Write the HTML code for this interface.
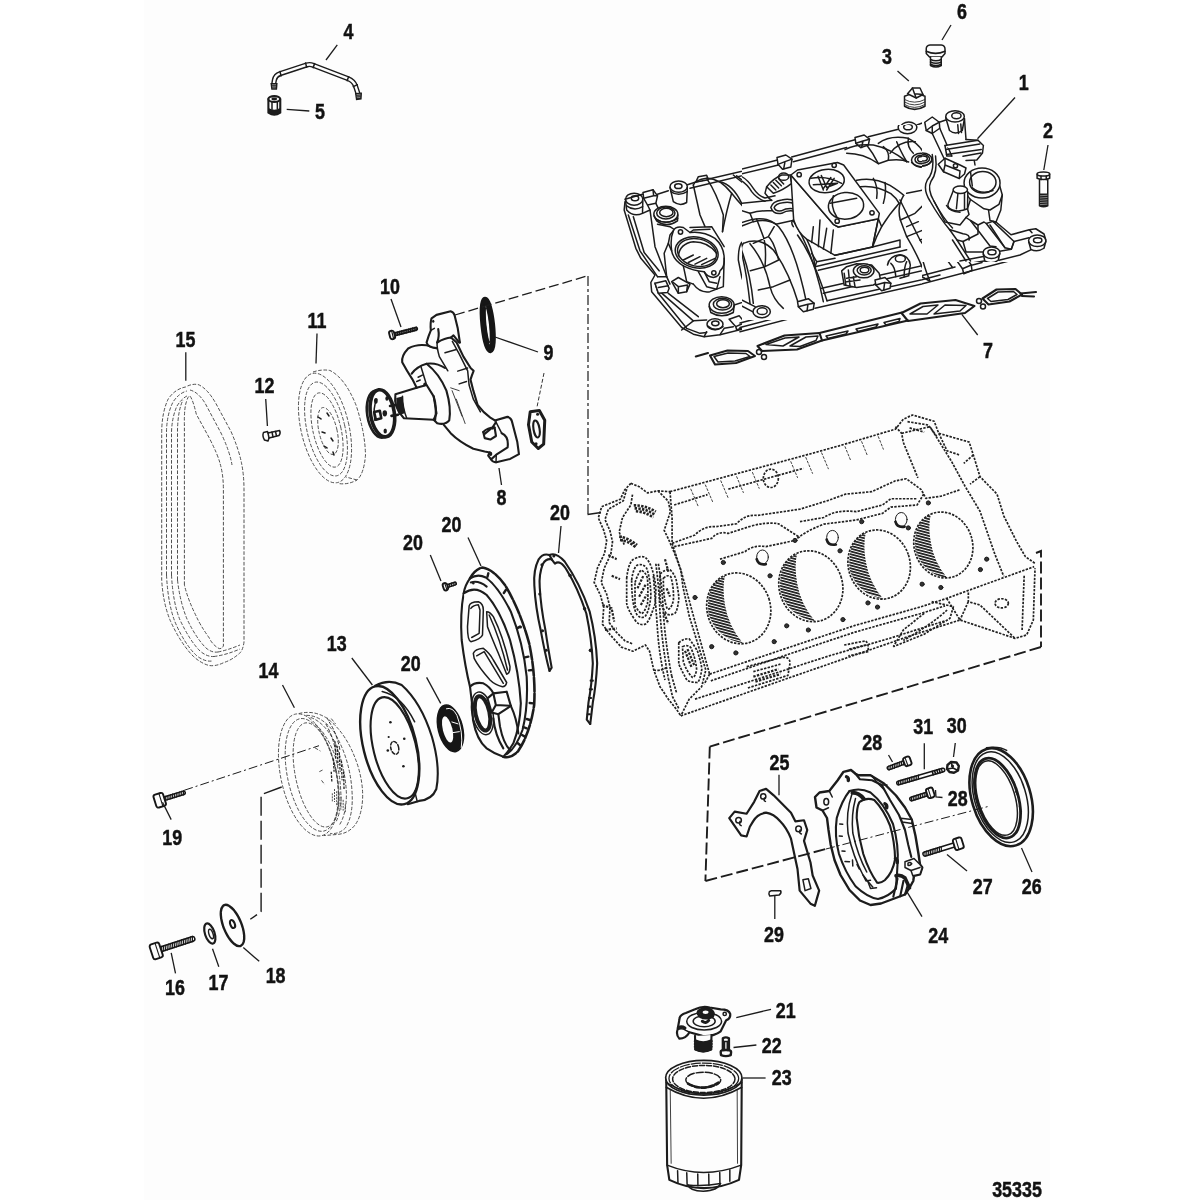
<!DOCTYPE html>
<html><head><meta charset="utf-8"><title>35335</title>
<style>
html,body{margin:0;padding:0;background:#fff;}
body{width:1200px;height:1200px;overflow:hidden;position:relative;}
#bg{position:absolute;left:144px;top:0;width:906px;height:1200px;background:#fdfdfd;}
svg{position:absolute;left:0;top:0;}
svg *{vector-effect:non-scaling-stroke;}
.k{fill:none;stroke:#1c1c1c;stroke-width:1.5;stroke-linecap:round;stroke-linejoin:round;}
.k2{fill:none;stroke:#1c1c1c;stroke-width:2.1;stroke-linecap:round;stroke-linejoin:round;}
.k3{fill:none;stroke:#161616;stroke-width:2.8;stroke-linecap:round;stroke-linejoin:round;}
.kt{fill:none;stroke:#2a2a2a;stroke-width:0.9;stroke-linecap:round;stroke-linejoin:round;}
.w{fill:#fdfdfd;}
.ph{fill:none;stroke:#484848;stroke-width:0.95;stroke-dasharray:3.6 1.7;stroke-linecap:butt;stroke-linejoin:round;}
.pd{fill:none;stroke:#222;stroke-width:1.7;stroke-dasharray:2.4 1.3;stroke-linecap:butt;stroke-linejoin:round;}
.ds{fill:none;stroke:#1c1c1c;stroke-width:1.9;stroke-dasharray:12 4;stroke-linecap:butt;}
.dd{fill:none;stroke:#1c1c1c;stroke-width:1.2;stroke-dasharray:9 3 2 3;stroke-linecap:butt;}
.ld{fill:none;stroke:#1c1c1c;stroke-width:1.3;stroke-linecap:butt;}
.f{fill:#1c1c1c;stroke:none;}
text{font-family:"Liberation Sans",sans-serif;font-weight:bold;font-size:21.8px;fill:#111;stroke:#111;stroke-width:0.45px;text-anchor:middle;}
</style></head><body><div id="bg"></div>
<svg width="1200" height="1200" viewBox="0 0 1200 1200">
<defs>
<clipPath id="clipL"><rect x="0" y="0" width="742" height="1200"/></clipPath>
<clipPath id="clipC" clipPathUnits="userSpaceOnUse"><rect x="12" y="30" width="1080" height="1170"/></clipPath>
<clipPath id="clipR"><path clip-rule="evenodd" d="M0,0 H1200 V1200 H0 Z M700,125 V320 H922 V125 Z M922,112 H930 V100 H1075 V262 H922 Z"/></clipPath>
<clipPath id="clipT" clipPathUnits="userSpaceOnUse"><path d="M147,147 H200 V67 H1167 V1147 H147 Z"/></clipPath>
</defs>
<!-- 10_manifold_left.svg -->
<g clip-path="url(#clipL)"><g id="man-left" transform="translate(600,160) scale(0.166667)" class="k">
<!-- outer flange left end -->
<path d="M150,250 L145,300 L215,530 L245,590 L330,690 L305,735 L310,790 L490,1005 L560,1045 L625,1060 L720,1048 L1200,930"/>
<path d="M170,330 L240,545 L345,700"/>
<path d="M255,320 L300,300 L330,520 L400,700"/>
<path d="M200,340 L265,555 L355,665"/>
<path d="M330,740 L350,800 L520,1010 L600,1040 L640,1035"/>
<path d="M345,700 L400,700 L420,745"/>
<path d="M360,790 L560,965 L640,960"/>
<path d="M410,800 L590,940"/>
<path d="M490,1020 L560,965"/>
<path d="M625,1060 L640,1030"/>
<!-- top-left corner boss -->
<ellipse cx="205" cy="235" rx="52" ry="36" class="k w"/>
<ellipse cx="210" cy="230" rx="22" ry="15" class="k"/>
<path d="M153,240 L160,300 Q200,345 255,320 L257,245"/>
<path d="M160,275 Q205,310 256,280"/>
<!-- clip 1 -->
<path d="M258,195 L318,178 L345,215 L335,260 L285,270 L262,230 Z" class="k w"/>
<path d="M262,230 L322,215 L345,215 M322,215 L318,178"/>
<path d="M285,270 L300,300 M335,260 L350,290"/>
<!-- top rail -->
<path d="M255,205 L150,235"/>
<path d="M345,205 L410,185"/>
<path d="M520,150 L575,132 L1060,18"/>
<path d="M540,170 L1040,50"/>
<!-- boss 2 -->
<ellipse cx="472" cy="160" rx="52" ry="34" class="k w"/>
<ellipse cx="470" cy="157" rx="22" ry="14"/>
<path d="M420,165 L440,250 Q480,280 520,255 L524,165"/>
<path d="M425,190 Q470,222 523,190"/>
<!-- small clip on rail -->
<path d="M575,132 L590,100 L640,92 L650,118 Z" class="k w"/>
<!-- boss 3 big -->
<ellipse cx="395" cy="325" rx="72" ry="48" class="k w"/>
<ellipse cx="395" cy="318" rx="55" ry="36"/>
<ellipse cx="398" cy="315" rx="40" ry="25"/>
<path d="M325,335 L340,365 Q400,410 465,365 L467,330"/>
<path d="M335,355 Q400,395 466,350"/>
<path d="M345,385 L420,400 L450,420"/>
<!-- water outlet flange -->
<path d="M440,425 Q455,395 500,405 L540,435 Q620,425 690,470 Q745,520 745,590 Q750,640 720,665 Q715,700 680,705 Q640,700 625,670 Q560,665 500,635 Q440,600 430,545 Q420,470 440,425 Z" class="k w"/>
<ellipse cx="580" cy="555" rx="130" ry="92" transform="rotate(12 580 555)"/>
<ellipse cx="582" cy="555" rx="118" ry="82" transform="rotate(12 582 555)"/>
<path d="M470,575 Q480,500 560,490 Q650,490 700,560"/>
<path d="M500,600 L560,570 M530,615 L600,580 M570,625 L640,590 M610,628 L690,590"/>
<circle cx="483" cy="432" r="13"/>
<circle cx="683" cy="677" r="13"/>
<!-- flange body below -->
<path d="M430,545 L410,500 L420,450 L440,425"/>
<path d="M410,500 L385,560 L400,700"/>
<path d="M500,635 L520,730 L560,745"/>
<path d="M590,670 L640,760 L700,775 L720,700"/>
<path d="M625,670 L655,730 L700,740"/>
<path d="M560,745 Q600,800 660,790 L740,760 L745,590"/>
<path d="M540,405 L670,400 L745,520"/>
<path d="M540,435 L560,420 L660,415"/>
<!-- clips lower-left -->
<path d="M330,740 L395,725 L415,770 L405,795 L350,800 Z" class="k w"/>
<path d="M350,765 L410,755"/>
<path d="M430,730 L470,705 L540,745 L520,790 L470,800 Z" class="k w"/>
<path d="M470,760 L525,750 L520,790 M470,760 L470,800 M470,760 L440,735"/>
<!-- boss lower -->
<ellipse cx="730" cy="870" rx="75" ry="50" class="k w"/>
<ellipse cx="735" cy="865" rx="55" ry="35"/>
<ellipse cx="738" cy="862" rx="38" ry="24"/>
<path d="M655,880 L665,915 Q730,955 800,915 L805,875"/>
<!-- small boss -->
<ellipse cx="690" cy="985" rx="48" ry="33" class="k w"/>
<ellipse cx="692" cy="980" rx="22" ry="14"/>
<path d="M645,995 Q690,1035 738,1000"/>
<!-- clip bottom -->
<path d="M775,955 L835,935 L870,975 L815,1000 Z" class="k w"/>
<path d="M815,1000 L820,1020 L870,1000 L870,975"/>
<!-- boss right small -->
<ellipse cx="975" cy="905" rx="45" ry="30" class="k w"/>
<ellipse cx="978" cy="900" rx="22" ry="14"/>
<path d="M930,915 Q975,955 1020,915"/>
<!-- lower rail lines -->
<path d="M870,985 L1200,895"/>
<path d="M805,870 L930,830 L940,885"/>
<path d="M720,1048 L745,1010 L800,1000"/>
<!-- runners (left bank) -->
<path d="M560,150 Q570,120 640,110 Q720,110 790,200 Q860,290 920,330"/>
<path d="M560,150 L600,330 L630,400"/>
<path d="M640,110 Q700,200 740,330 L735,430"/>
<path d="M790,200 Q760,300 735,430"/>
<path d="M720,130 Q800,150 850,260 Q960,330 1020,440"/>
<path d="M850,260 Q900,240 1000,210"/>
<path d="M800,90 Q900,180 1010,220"/>
<path d="M820,95 Q910,170 1020,200"/>
<path d="M920,330 Q940,400 910,480 Q880,500 850,495 Q830,520 830,600 L850,700 Q880,800 930,870"/>
<path d="M910,480 Q940,520 950,600 Q1000,700 1100,760"/>
<path d="M850,495 Q870,600 900,700 Q940,800 990,860"/>
<path d="M920,330 Q1010,380 1060,470 Q1100,560 1120,700"/>
<path d="M1020,440 Q1090,500 1130,600 Q1160,700 1200,760"/>
<path d="M950,600 L1040,560 Q1060,620 1040,700"/>
<path d="M900,700 Q960,740 1040,700 L1120,700"/>
<path d="M1040,560 L1090,520"/>
<path d="M1060,470 L1130,440 L1200,400"/>
<path d="M940,760 L1060,780 L1130,760"/>
<path d="M990,860 Q1060,850 1130,760"/>
<path d="M1100,760 Q1150,820 1200,850"/>
<!-- peanut & neighbours -->
<path d="M1030,290 Q1050,250 1110,240 Q1160,215 1200,225"/>
<path d="M1030,290 Q1060,330 1120,315 Q1160,330 1200,310"/>
<path d="M1045,290 Q1065,265 1115,255 Q1160,235 1200,240"/>
<!-- top right stuff -->
<path d="M1060,18 L1080,5 L1140,0"/>
<path d="M1000,170 Q1040,130 1090,110 L1130,150 Q1080,170 1050,205 Z"/>
<ellipse cx="1120" cy="100" rx="45" ry="30"/>
<ellipse cx="1122" cy="97" rx="28" ry="18"/>
</g></g>

<!-- 11_manifold_tr.svg -->
<g clip-path="url(#clipR)"><g id="man-tr" transform="translate(780,0) scale(0.25)" class="k">
<!-- back rail -->
<path d="M0,640 L300,560"/>
<path d="M0,668 L255,602"/>
<path d="M350,548 L485,508"/>
<path d="M345,578 L470,545"/>
<!-- clip on rail -->
<path d="M300,560 L312,545 L350,540 L358,570 L345,592 L318,595 Z" class="k w"/>
<path d="M318,595 L312,565 L350,560"/>
<!-- left small clip at edge -->
<path d="M0,640 L8,620 L40,622 L50,655 L40,690 L10,700" />
<path d="M10,700 L20,720 L0,740"/>
<!-- boss A -->
<ellipse cx="515" cy="512" rx="33" ry="24" class="k w"/>
<ellipse cx="517" cy="510" rx="15" ry="10"/>
<path d="M483,520 Q515,555 548,520"/>
<!-- rail to clip2 -->
<path d="M548,500 L580,488"/>
<path d="M578,488 L603,470 L632,490 L622,520 L592,527 Z" class="k w"/>
<path d="M592,527 L590,500 L632,490"/>
<path d="M592,527 L640,645 M622,520 L685,640"/>
<path d="M632,490 L662,475"/>
<!-- tall boss B -->
<path d="M660,470 L672,515 Q705,545 737,520 L742,465" class="k w"/>
<ellipse cx="701" cy="463" rx="41" ry="26" class="k w"/>
<ellipse cx="703" cy="461" rx="26" ry="16"/>
<path d="M742,480 L750,545"/>
<path d="M672,515 L660,560"/>
<!-- block step -->
<path d="M668,562 L790,556 L806,582 L803,626 L783,662 L740,668"/>
<path d="M672,600 L803,596"/>
<path d="M690,562 L690,600 M760,558 L760,598"/>
<path d="M690,640 L795,632"/>
<path d="M750,545 L790,556"/>
<!-- Y bracket -->
<path d="M640,648 L700,636 L728,682 L715,700 L655,712 L635,672 Z" class="k w"/>
<path d="M655,712 L660,680 L728,682 M660,680 L640,648"/>
<circle cx="690" cy="655" r="5"/>
<path d="M715,700 L745,715 M728,682 L760,690"/>
<!-- thermostat neck ring -->
<ellipse cx="792" cy="735" rx="63" ry="56" class="k w"/>
<ellipse cx="797" cy="730" rx="46" ry="40"/>
<path d="M760,690 Q745,720 752,760 L770,790"/>
<path d="M852,750 Q890,790 880,840 Q865,880 825,885 L790,870 Q760,850 752,800"/>
<path d="M840,775 Q860,810 850,845 Q830,870 800,860"/>
<path d="M770,790 Q800,800 840,775"/>
<path d="M760,690 L772,770"/>
<!-- cylinder boss C -->
<path d="M688,768 L678,850 Q712,885 748,858 L748,772" class="k w"/>
<ellipse cx="717" cy="765" rx="31" ry="18" class="k w"/>
<path d="M700,765 L695,850 M735,770 L735,860"/>
<path d="M660,830 Q665,870 700,880"/>
<path d="M748,858 L760,880 L825,885"/>
<!-- boss D -->
<ellipse cx="562" cy="635" rx="40" ry="28" class="k w"/>
<ellipse cx="565" cy="632" rx="28" ry="19"/>
<ellipse cx="567" cy="630" rx="17" ry="11"/>
<path d="M524,645 Q560,690 602,645"/>
<!-- divider S-curve -->
<path d="M602,660 Q610,700 590,740 Q575,790 600,850 Q640,900 700,900"/>
<path d="M622,690 Q600,760 615,820 Q650,880 700,885"/>
<!-- upper tubes -->
<path d="M258,612 Q280,570 350,560 Q440,545 510,580 Q530,600 522,640"/>
<path d="M258,612 Q300,640 350,640"/>
<path d="M400,645 Q420,590 480,575"/>
<path d="M350,560 Q380,600 400,645 Q440,655 470,640 Q500,600 480,575"/>
<path d="M470,640 Q500,660 524,648"/>
<path d="M420,560 Q470,600 470,640"/>
<path d="M300,640 Q420,640 480,700 L500,745"/>
<path d="M240,660 Q300,650 350,680 Q420,720 440,770"/>
<path d="M480,700 Q540,690 600,740"/>
<path d="M500,745 Q560,740 590,760"/>
<path d="M440,770 Q480,760 500,745"/>
<path d="M350,680 Q330,720 300,730"/>
<!-- right bottom runner toward rail -->
<path d="M600,850 Q640,940 700,960 L740,950"/>
<path d="M560,800 Q600,900 640,1000 L690,1070"/>
<path d="M480,800 Q520,900 560,1000 Q580,1080 600,1125"/>
<path d="M440,770 Q470,800 480,830"/>
<path d="M590,760 Q570,790 560,800"/>
<path d="M500,850 Q540,840 580,860"/>
<path d="M540,960 Q580,940 620,960"/>
<!-- right lower ribs -->
<path d="M760,880 L790,935 L830,925 L830,885"/>
<path d="M830,890 L900,985 L935,975 L850,880" class="k w"/>
<path d="M740,950 L800,930"/>
<path d="M700,960 L720,1040 L745,1035"/>
<path d="M745,905 L830,990 L900,985"/>
<!-- right rail end -->
<path d="M935,975 L1000,955 L1005,925 L1040,918"/>
<path d="M880,840 L940,935 L1000,915"/>
<ellipse cx="1025" cy="962" rx="38" ry="27" class="k w"/>
<ellipse cx="1028" cy="960" rx="18" ry="12"/>
<path d="M1040,918 L1065,945 L1068,985 L1045,1010 L1000,1020"/>
<path d="M988,975 Q1025,1010 1062,975"/>
<!-- boss on lower rail -->
<ellipse cx="842" cy="1010" rx="35" ry="24" class="k w"/>
<ellipse cx="845" cy="1008" rx="17" ry="11"/>
<path d="M808,1020 Q842,1055 876,1020"/>
<path d="M876,1005 L915,995 L925,1015 L985,1000"/>
<path d="M915,995 L910,1030 L960,1018"/>
<!-- clips on lower rail -->
<path d="M705,1040 L745,1030 L765,1060 L730,1075 Z" class="k w"/>
<path d="M730,1075 L735,1095 L768,1082 L765,1060"/>
<path d="M770,1060 L808,1050"/>
<!-- lower rail lines -->
<path d="M1045,1010 L-160,1327"/>
<path d="M700,1068 L-160,1292"/>
<path d="M640,1100 L-160,1310"/>

<!-- carb flange -->
<path d="M50,700 L215,655 L390,860 L225,920 Z" class="k w"/>
<ellipse cx="175" cy="730" rx="58" ry="42" transform="rotate(-8 175 730)"/>
<ellipse cx="262" cy="830" rx="66" ry="52" transform="rotate(-8 262 830)"/>
<path d="M125,745 L200,700 M140,760 L225,715 M160,705 L190,770 M180,700 L215,765"/>
<circle cx="82" cy="705" r="8"/><circle cx="212" cy="668" r="8"/><circle cx="362" cy="852" r="8"/><circle cx="228" cy="888" r="8"/>
<path d="M50,700 L52,730 L130,870 L225,950 L225,920"/>
<path d="M225,950 L390,890 L390,860"/>
<path d="M130,870 L150,1000 L240,1070 L225,950"/>
<path d="M240,1070 L385,1020 L390,890"/>
<path d="M175,900 L195,1035 M200,925 L215,1050"/>
<path d="M150,1000 L100,1010 L60,960"/>
<path d="M385,1020 L470,1000 L520,960"/>
<path d="M390,930 Q440,900 480,830"/>
<!-- under-carb lines -->
<path d="M0,860 Q40,840 70,790"/>
<path d="M0,900 Q60,880 110,830"/>
<path d="M60,960 Q20,1000 0,1010"/>
<path d="M150,1060 L170,1140 L240,1140"/>
<path d="M0,1060 Q80,1080 140,1200"/>
<path d="M60,1040 Q120,1080 180,1200"/>
<path d="M240,1140 L470,1080"/>
<path d="M170,1170 L250,1150"/>
<path d="M470,1000 L520,1080 L600,1125"/>
<path d="M385,1020 L400,1090"/>
<!-- lower center boss -->
<path d="M250,1085 L285,1075 M250,1085 L255,1135 L290,1150 L380,1130 M370,1095 L395,1115 L440,1105 L430,1075 L395,1085"/>
<ellipse cx="330" cy="1100" rx="42" ry="28" class="k w"/>
<ellipse cx="333" cy="1097" rx="28" ry="18"/>
<ellipse cx="335" cy="1095" rx="17" ry="11"/>
<path d="M390,1120 L410,1150 L445,1140 L440,1105" class="k w"/>
<path d="M440,1060 Q470,1030 500,1050 L520,1110"/>
<ellipse cx="485" cy="1045" rx="12" ry="8"/>
<!-- plug 6 -->
<path d="M585,195 Q585,182 600,180 L645,180 Q660,182 660,196 L660,214 L648,228 L598,228 L585,214 Z" class="k w"/>
<path d="M585,205 Q622,222 660,205"/>
<path d="M602,228 L602,262 Q624,274 645,262 L645,228" class="k w"/>
<path d="M602,238 Q624,248 645,238 M602,248 Q624,258 645,248 M602,257 Q624,268 645,257" class="k"/>
<!-- plug 3 -->
<path d="M498,385 L498,425 Q538,450 580,425 L580,385 Q540,365 498,385 Z" class="k w"/>
<path d="M510,375 L530,352 L560,352 L572,378 L545,392 Z" class="k w"/>
<path d="M530,352 L538,375 L545,392 M538,375 L572,378"/>
<path d="M498,398 Q538,420 580,398 M498,408 Q538,432 580,408 M498,418 Q538,442 580,418" class="kt"/>
<!-- bolt 2 -->
<path d="M1028,692 L1040,685 L1070,685 L1082,692 L1082,715 L1070,725 L1040,725 L1028,715 Z" class="k w"/>
<path d="M1045,685 L1045,725 M1068,685 L1068,725"/>
<path d="M1042,725 L1042,825 Q1055,835 1068,825 L1068,725" class="k w"/>
<path d="M1042,775 L1068,772 M1042,785 L1068,782 M1042,795 L1068,792 M1042,805 L1068,802 M1042,815 L1068,812 M1042,824 L1068,821" class="k2"/>
<path d="M385,1125 L425,1112 L445,1145 L410,1160 Z" class="k w"/>
<path d="M410,1160 L415,1180 L448,1168 L445,1145"/>
<path d="M75,1205 L115,1192 L135,1225 L100,1240 Z" class="k w"/>
<path d="M100,1240 L105,1258 L138,1246 L135,1225"/>
</g></g>
<g id="lead-tr" class="ld">
<path d="M951,25 L942,40"/>
<path d="M897.5,71 L908.8,81"/>
<path d="M1015,97.5 L977.5,138.8"/>
<path d="M1048,145 L1043.8,170"/>
</g>

<!-- 12_gasket7.svg -->
<g id="gasket7" class="k2">
<path d="M695.8,356.5 L708,353"/>
<path d="M710,355.5 L727.5,350.5 L748,351 L755,356 L736,363 L715,364.5 Z"/>
<path d="M714,356.5 L728,353 L746,353.5 L750,356.5 L735,361 L718,362 Z" class="k"/>
<circle cx="759" cy="352" r="2.5" class="k"/><circle cx="764" cy="357" r="2.5" class="k"/>
<path d="M757.5,346 L784.5,335.5 L819.5,333 L822,340.5 L797,349.5 L762,351 Z"/>
<path d="M766,344.5 L785,338 L799,337 L783,346 Z" class="k"/>
<path d="M790,346 L806,337 L818,336 L816,340.5 L800,346.5 Z" class="k"/>
<path d="M819.5,333 L902,312.5"/>
<path d="M822,340.5 L908,320.5"/>
<path d="M826,336 L848,331 L846,334 L828,338.5 Z M856,329 L878,324 L876,327 L858,331.5 Z M884,322.5 L900,318.5 L899,321.5 L886,325 Z" class="k"/>
<path d="M901.5,313 L920.5,303.5 L955.5,300 L974.5,306 L965,313 L908,321 Z"/>
<path d="M910,314 L923,306.5 L938,305 L927,314 Z" class="k"/>
<path d="M934,314 L945,305 L966,305.5 L960,311 Z" class="k"/>
<circle cx="979" cy="301" r="2.5" class="k"/><circle cx="983" cy="306.5" r="2.5" class="k"/>
<path d="M982.5,298.5 L996.5,289.5 L1015.5,289 L1022,294.5 L1009.5,301.5 L988.5,304.5 Z"/>
<path d="M987.5,298.5 L998,292 L1013.5,291.5 L1017,294.5 L1008,299.5 L991,301.5 Z" class="k"/>
<path d="M1020.5,293.5 L1036,292 M1022,296 L1034,296.5" />
</g>
<path class="ld" d="M961.8,314.3 L977.7,335"/>

<!-- 13_manifold_center.svg -->
<g id="man-center" transform="translate(740,120) scale(0.166667)" class="k" clip-path="url(#clipC)">
<!-- back rail -->
<path d="M0,297 L225,240 M310,222 L690,118 M770,100 L950,55"/>
<path d="M0,325 L230,270 M320,250 L640,165"/>
<path d="M222,225 L275,210 L312,235 L305,282 L255,296 L228,266 Z" class="k w"/>
<path d="M228,266 L270,250 L312,235 M270,250 L262,294"/>
<path d="M690,105 L745,90 L777,115 L770,150 L725,166 L695,140 Z" class="k w"/>
<path d="M695,140 L738,126 L777,115 M738,126 L730,165"/>
<ellipse cx="1005" cy="45" rx="56" ry="38" class="k w"/>
<ellipse cx="1008" cy="42" rx="26" ry="17"/>

<!-- small boss + clip behind carb -->
<path d="M160,400 Q200,350 250,330 L300,330 L310,380 Q260,420 200,440 Z" class="k w"/>
<ellipse cx="262" cy="340" rx="30" ry="22"/>
<path d="M185,390 L215,420 M200,375 L232,408 M215,362 L248,395 M232,352 L262,384"/>
<path d="M160,400 L150,440 L175,470"/>
<!-- left ridge curves -->
<path d="M0,335 Q40,350 80,410 Q110,455 150,468 L210,455"/>
<path d="M0,360 Q40,380 70,430 Q100,470 150,488"/>
<path d="M0,500 L190,482"/>
<!-- peanut -->
<path d="M185,525 Q195,488 250,480 Q300,468 335,490 Q382,500 386,526 Q372,548 320,546 Q282,540 250,560 Q200,568 185,525 Z"/>
<path d="M205,525 Q215,502 255,497 Q300,487 330,507 Q360,512 364,526 Q352,535 318,532 Q280,527 248,545 Q212,550 205,525 Z"/>
<!-- plenum box top lines -->
<path d="M190,482 L175,470 M386,526 L420,500 L330,395"/>
<path d="M0,620 Q150,555 232,640 Q330,760 400,1100"/>
<path d="M20,740 Q120,698 200,780 Q290,900 350,1100"/>
<path d="M0,640 L80,610 Q160,590 215,625"/>
<path d="M80,610 L60,560 L0,540"/>
<path d="M215,625 L330,600 L420,690"/>
<path d="M0,760 Q60,900 80,1100"/>
<path d="M60,742 Q150,850 180,1000 Q200,1080 260,1130"/>
<path d="M20,740 Q5,760 10,800 Q40,920 60,1100"/>
<path d="M100,595 L140,700 M205,640 L170,700 L80,740 M232,840 L150,880 L62,905 M300,960 L200,1000 L110,1020 M140,700 Q160,760 150,880 M170,700 Q200,720 232,840"/>
<path d="M60,560 Q120,540 190,545"/>
<!-- ridge right of runner -->
<path d="M320,605 Q420,760 480,1000 L500,1090"/>
<path d="M345,690 Q440,820 522,1085"/>
<path d="M400,715 Q440,790 450,880"/>
<!-- riser -->
<path d="M570,812 L590,642"/>
<path d="M305,330 L322,600 Q350,680 400,715 L570,812 L795,762 L830,592 L590,642 L560,626 Z" class="k w"/>
<path d="M570,812 L795,762 L830,592"/>
<path d="M560,660 L545,800 M520,650 L500,775 M480,600 L470,760 M440,640 L430,735"/>
<path d="M322,600 Q300,610 320,640"/>
<path d="M830,592 L850,640 L820,700 L795,762"/>
<!-- carb flange -->
<path d="M305,330 L345,300 L585,255 L622,270 L836,560 L830,592 L590,642 L560,626 Z" class="k w"/>
<ellipse cx="520" cy="366" rx="106" ry="70" transform="rotate(-6 520 366)"/>
<ellipse cx="636" cy="515" rx="106" ry="80" transform="rotate(-6 636 515)"/>
<path d="M425,350 Q520,330 610,380"/>
<path d="M468,338 L500,420 M488,333 L520,405 M545,345 L498,415 M565,350 L520,420 M440,388 L585,380 M520,405 L585,380"/>
<path d="M560,455 Q540,520 580,580 M540,500 L700,470"/>
<circle cx="355" cy="328" r="13"/><circle cx="565" cy="272" r="13"/><circle cx="792" cy="557" r="13"/><circle cx="583" cy="607" r="13"/>
<!-- valley floor -->
<path d="M450,880 L960,762 M470,902 L1000,778"/>
<path d="M430,800 L460,850 L570,830 M460,850 L450,880"/>
<path d="M795,762 L960,720 L960,762"/>
<path d="M490,1010 L1200,850 M500,1040 L1200,880"/>
<path d="M522,1085 L1200,935"/>
<!-- center boss -->
<path d="M610,905 L640,880 L700,862 L790,870 L835,920 L845,965 L800,990 L700,1005 L625,990 Z" class="k w"/>
<ellipse cx="742" cy="905" rx="62" ry="42" class="k w"/>
<ellipse cx="745" cy="902" rx="42" ry="28"/>
<ellipse cx="747" cy="900" rx="26" ry="17"/>
<path d="M625,920 L635,990 M650,900 L660,995 M680,940 L690,1000 M640,950 L700,940 M640,970 L720,960"/>
<path d="M810,960 L870,945 L905,980 L900,1010 L850,1025 L815,990 Z" class="k w"/>
<path d="M815,990 L868,975 L905,980 M868,975 L862,1022"/>
<!-- right boss -->
<path d="M885,870 Q895,815 960,808 Q1015,815 1022,870 L1012,935 L960,950"/>
<ellipse cx="962" cy="832" rx="30" ry="20"/>
<path d="M905,860 Q930,880 935,940 M1000,850 Q985,880 985,940"/>
<!-- bottom-left clip & boss -->
<path d="M345,1090 L410,1072 L445,1100 L440,1135 L380,1150 L350,1120 Z" class="k w"/>
<path d="M350,1120 L408,1105 L445,1100 M408,1105 L402,1145"/>
<ellipse cx="130" cy="1150" rx="52" ry="36" class="k w"/>
<ellipse cx="133" cy="1147" rx="30" ry="20"/>
<path d="M0,1075 L90,1120 M0,1110 L75,1150"/>
<path d="M450,1130 L1200,960"/>
<!-- right runner arcs -->
<path d="M630,178 Q700,140 800,150 Q900,170 1000,250"/>
<path d="M640,200 Q740,200 830,262 L890,242 Q960,230 1012,252"/>
<path d="M830,140 Q900,88 1010,110 Q1090,150 1122,240"/>
<path d="M900,200 Q960,120 1052,130"/>
<path d="M760,150 Q800,200 830,262 M860,160 Q900,190 890,242 M940,130 Q960,180 1000,250 M1010,110 Q1000,160 1040,200"/>
<path d="M700,362 Q800,340 900,392 Q960,430 982,452"/>
<path d="M720,400 Q820,390 905,442 Q940,470 955,500"/>
<path d="M800,350 Q830,400 820,470 M870,375 Q880,430 860,500"/>
<path d="M982,452 Q940,520 962,600 L1000,700 Q1060,800 1100,900"/>
<path d="M1000,440 L1100,420 L1200,380"/>
<path d="M960,480 Q1020,600 1080,720 L1200,900"/>
<path d="M955,500 Q900,560 850,640"/>
<path d="M1130,300 Q1100,400 1130,480 Q1170,600 1200,640"/>
<path d="M1150,290 Q1125,400 1155,470 Q1180,540 1200,560"/>
<ellipse cx="1085" cy="240" rx="56" ry="40" class="k w"/>
<ellipse cx="1088" cy="237" rx="38" ry="26"/>
<ellipse cx="1090" cy="235" rx="24" ry="16"/>
<path d="M1030,255 Q1085,310 1140,255"/>
<path d="M1000,700 L1100,660 L1180,700 M1080,720 L1160,690"/>
<path d="M962,600 L1050,560 L1130,480 M1000,640 L1070,610"/>
<path d="M1100,900 L1200,875"/>
</g>

<!-- 14_manifold_right.svg -->
<g id="man-right" transform="translate(900,90) scale(0.15)" class="k" clip-path="url(#clipT)">
<!-- rib from clip -->
<path d="M215,290 L300,470 M265,255 L345,440"/>
<path d="M165,215 L215,180 L262,215 L265,255 L215,290 L175,270 Z" class="k w"/>
<path d="M175,270 L215,240 L262,215 M215,240 L215,290"/>
<!-- tall boss B -->
<path d="M305,185 L330,270 Q370,302 415,270 L430,190" class="k w"/>
<ellipse cx="367" cy="176" rx="62" ry="38" class="k w"/>
<ellipse cx="376" cy="172" rx="31" ry="20"/>
<path d="M385,232 L390,290 M405,226 L410,284"/>
<path d="M430,195 L440,330"/>
<path d="M262,215 L305,200"/>
<!-- block step -->
<path d="M300,370 L520,335 L556,370 L550,420 L512,466 L440,470" class="k w"/>
<path d="M305,396 L532,360 M310,430 L542,396 M420,442 L540,420"/>
<path d="M300,370 L312,440 L345,440"/>
<path d="M440,330 L520,335"/>
<path d="M495,470 L500,500"/>
<!-- Y bracket -->
<path d="M255,495 L300,455 L400,500 L440,520 L430,560 L395,590 L290,545 Z" class="k w"/>
<path d="M290,545 L300,500 L400,540 L395,590 M300,500 L300,455"/>
<circle cx="370" cy="505" r="14"/>
<!-- thermostat neck -->
<path d="M430,640 Q440,700 470,730 L560,792 L600,800 L660,762 L682,700 L665,640" class="k w"/>
<ellipse cx="547" cy="620" rx="120" ry="100" class="k w"/>
<ellipse cx="552" cy="615" rx="88" ry="72"/>
<path d="M470,545 L482,640"/>
<path d="M480,650 Q540,700 620,670"/>
<path d="M682,700 L672,800 L640,880 L600,870 L590,800"/>
<path d="M470,730 L450,790"/>
<!-- cylinder boss C -->
<path d="M355,672 L320,760 Q315,790 350,800 Q400,815 450,792 L452,680" class="k w"/>
<ellipse cx="402" cy="665" rx="48" ry="25" class="k w"/>
<path d="M386,690 L376,792 M430,690 L430,795"/>
<path d="M310,770 Q330,810 400,815"/>
<path d="M450,792 L460,830 L440,850"/>
<!-- lower ribs -->
<path d="M440,850 L470,870 L600,1040 L640,1045"/>
<path d="M470,870 L520,900 L560,880 L575,890 L620,876 L760,1010 L742,1062 L700,1052 L600,900"/>
<path d="M575,890 L700,1052 M620,876 L640,880"/>
<path d="M742,1062 L760,1010 L860,985"/>
<path d="M640,880 L740,965 L862,932 L880,952"/>
<path d="M520,900 L520,960 L470,985"/>
<!-- corner boss -->
<ellipse cx="915" cy="1005" rx="58" ry="38" class="k w"/>
<ellipse cx="918" cy="1002" rx="28" ry="17"/>
<path d="M858,1012 L872,1062 Q915,1085 960,1055 L972,1010"/>
<path d="M862,932 L905,925 L960,960 L972,1000"/>
<!-- lower rail boss -->
<ellipse cx="610" cy="1085" rx="56" ry="38" class="k w"/>
<ellipse cx="613" cy="1082" rx="27" ry="17"/>
<path d="M556,1095 L565,1140 Q610,1165 655,1135 L665,1090"/>
<path d="M665,1075 L742,1062 M660,1135 L800,1100 L872,1066"/>
<path d="M470,985 L420,1010 L440,1080 L556,1080"/>
<path d="M400,1140 L556,1110 M380,1170 L560,1140"/>
<!-- boss D -->
<ellipse cx="150" cy="462" rx="62" ry="42" class="k w"/>
<ellipse cx="153" cy="459" rx="44" ry="29"/>
<ellipse cx="155" cy="457" rx="27" ry="17"/>
<path d="M90,475 Q150,540 212,475"/>
<!-- S divider + runner edges left -->
<path d="M215,430 Q232,540 182,600 Q150,660 200,740 Q262,850 330,930 L420,958 Q470,962 460,1000"/>
<path d="M237,440 Q252,550 206,610 Q180,660 226,740 Q290,860 350,920"/>
<path d="M226,740 L300,880 L400,900 L440,850"/>
<path d="M330,930 L380,1000 L420,1010"/>
<path d="M350,1000 L440,1140 M380,1000 L470,1140"/>
</g>
<g id="bolt2" transform="translate(900,90) scale(0.15)" class="k">
<path d="M930,590 L930,772 Q957,786 985,772 L985,590" class="k w"/>
<path d="M930,690 L930,772 Q957,786 985,772 L985,690 Z" class="f"/>
<path d="M936,705 L980,702 M936,720 L980,717 M936,735 L980,732 M936,750 L980,747 M936,764 L980,761" stroke="#ccc" stroke-width="0.6" fill="none"/>
<path d="M914,562 L914,588 Q957,606 998,588 L998,562" class="k w"/>
<ellipse cx="956" cy="560" rx="42" ry="14" class="k w"/>
<path d="M940,573 L940,598 M975,573 L975,598"/>
</g>

<!-- 20_tube.svg -->
<g id="tube" transform="translate(240,10) scale(0.133333)">
<path d="M252,560 L258,525 Q265,490 300,478 L500,412 Q525,404 550,415 L810,515 Q852,532 866,570 L885,628" fill="none" stroke="#1c1c1c" stroke-width="5.2" stroke-linecap="butt" stroke-linejoin="round"/>
<path d="M252,560 L258,525 Q265,490 300,478 L500,412 Q525,404 550,415 L810,515 Q852,532 866,570 L885,628" fill="none" stroke="#fdfdfd" stroke-width="2.4" stroke-linecap="butt" stroke-linejoin="round"/>
<path d="M300,462 L308,495 M492,398 L500,430 M560,402 L548,432 M815,500 L803,530 M880,560 L850,575" class="k"/>
<path d="M228,548 L282,548 L278,598 L235,598 Z" class="f"/>
<path d="M240,560 L270,560 M240,572 L270,572 M242,584 L268,584" stroke="#bbb" stroke-width="0.6" fill="none"/>
<path d="M862,622 L915,618 L912,672 L870,676 Z" class="f"/>
<path d="M874,634 L904,632 M874,646 L904,644 M876,658 L902,656" stroke="#bbb" stroke-width="0.6" fill="none"/>
<!-- nut 5 -->
<path d="M213,668 L213,770 Q257,800 302,770 L302,668" class="k2 w"/>
<path d="M213,735 L213,770 Q257,800 302,770 L302,735 Q257,760 213,735 Z" class="f"/>
<ellipse cx="257" cy="668" rx="44" ry="22" class="k2 w"/>
<ellipse cx="257" cy="668" rx="22" ry="11" class="f"/>
<path d="M240,688 L240,745 M280,686 L280,742" class="k"/>
</g>
<g class="ld">
<path d="M337.3,44.9 L326,60"/>
<path d="M286.7,109.3 L309.3,111"/>
</g>

<!-- 30_pump.svg -->
<g id="pump" transform="translate(360,300) scale(0.141667)" class="k2">
<!-- hub flange -->
<ellipse cx="135" cy="805" rx="84" ry="168" transform="rotate(-9 135 805)" class="w" style="stroke-width:2.6"/>
<ellipse cx="158" cy="800" rx="84" ry="168" transform="rotate(-9 158 800)" class="w" style="stroke-width:3.6"/>
<ellipse cx="112" cy="712" rx="13" ry="20" class="f"/><ellipse cx="175" cy="800" rx="16" ry="22" class="f"/><ellipse cx="178" cy="925" rx="12" ry="18" class="f"/><ellipse cx="190" cy="695" rx="11" ry="16" class="f"/>
<path d="M100,790 L140,782 L150,835 L112,845 Z" class="k2" style="stroke-width:2.6"/>
<path d="M118,700 Q90,760 105,850" class="k"/>
<!-- shaft -->
<path d="M212,748 L262,738 M222,818 L268,810" style="stroke-width:2.6"/>
<!-- snout -->
<path d="M250,665 L400,620 L470,600 L520,680 L540,800 L520,845 L310,835 Q235,760 250,665 Z" class="w"/>
<path d="M300,680 Q300,760 330,835" class="k"/>
<ellipse cx="457" cy="595" rx="10" ry="13" class="f"/>
<path d="M256,692 L298,682 L316,800 L276,812 Q255,760 256,692 Z" class="f"/>
<!-- volute -->
<path d="M400,620 L370,560 Q330,500 298,440 Q290,395 340,342 Q400,310 470,320 L540,340"/>
<path d="M365,520 Q400,470 470,450 Q540,440 600,480"/>
<path d="M470,450 Q560,520 610,640 Q645,760 630,850 Q600,885 545,870 L520,845"/>
<path d="M520,680 Q545,760 530,850"/>
<path d="M430,470 L470,600" class="k"/>
<path d="M410,545 L440,530 M400,575 L425,565" class="k"/>
<!-- upper arm -->
<path d="M540,340 Q480,335 470,300 Q485,250 500,215 Q495,160 505,130 L540,105 L640,80 Q662,85 668,110 L690,200 L705,300" class="w"/>
<ellipse cx="517" cy="150" rx="8" ry="11" class="f"/>
<path d="M552,205 Q562,258 545,300"/>
<path d="M500,215 L525,200" class="k"/>
<!-- back plate -->
<path d="M545,300 Q600,268 642,265 L682,300 L730,400 L782,482 L802,500 L790,532 L780,562 L800,640 L830,740 Q870,795 920,830 L952,850"/>
<path d="M652,292 L700,380 L760,500 L770,600 L800,700 L850,790" class="k"/>
<path d="M545,300 Q540,330 560,400 L620,500" class="k"/>
<path d="M600,372 L680,350 M690,502 L760,480 M700,592 L752,575" class="k"/>
<path d="M650,640 L720,820 M680,700 L742,872 M640,620 L700,640" class="kt"/>
<path d="M642,265 L660,250 L700,300 L705,300"/>
<!-- lower leg -->
<path d="M590,880 L640,940 Q700,1000 800,1050 L880,1070 L916,1076"/>
<path d="M952,850 L1040,825 Q1065,830 1072,855 L1110,1000 L1122,1088 L1060,1122 L962,1146 Q935,1145 925,1125 L905,1098 L916,1076"/>
<path d="M870,932 Q900,900 950,900 M880,945 L935,900 L960,862"/>
<path d="M950,900 L960,960 L920,985 L880,975 L870,932"/>
<path d="M1000,940 Q1052,962 1042,1040 L962,1092 L925,1125"/>
<path d="M962,1092 L960,1146" class="k"/>
<ellipse cx="922" cy="1087" rx="12" ry="15" class="f"/><ellipse cx="937" cy="905" rx="8" ry="10" class="f"/>
<path d="M1000,940 L960,862" class="k"/>
</g>
<!-- bolt 10 -->
<g transform="translate(340,260) scale(0.216667)">
<!-- bolt10 placeholder -->
<!-- gasket 9 upper -->
<ellipse cx="682" cy="300" rx="21" ry="118" transform="rotate(-6 682 300)" fill="#fdfdfd" stroke="#161616" stroke-width="5.6"/>
<ellipse cx="682" cy="300" rx="9" ry="80" transform="rotate(-6 682 300)" fill="none" stroke="#161616" stroke-width="1.4"/>
<path d="M662,210 l8,4 M700,240 l-8,3 M662,300 l8,2 M704,330 l-8,2 M668,385 l8,0 M700,400 l-8,2" stroke="#161616" stroke-width="2" fill="none"/>
<!-- gasket 9 lower -->
<path d="M878,700 L920,695 L945,740 L940,850 L915,870 L885,840 L870,760 Z" class="k2 w" style="stroke-width:3"/>
<ellipse cx="907" cy="780" rx="14" ry="40" transform="rotate(-10 907 780)" class="k2"/>
<circle cx="912" cy="712" r="7" class="f"/><circle cx="905" cy="848" r="7" class="f"/>
</g>
<g id="bolt10">
<path d="M416.0,328.8 L394.5,334.4" stroke="#161616" stroke-width="4.4" stroke-linecap="round" fill="none"/>
<path d="M416.0,328.8 L394.5,334.4" stroke="#fdfdfd" stroke-width="0.6" stroke-linecap="round" fill="none"/>
<path d="M415.8,331.1 L416.2,326.5 M413.9,331.6 L414.4,326.9 M412.1,332.1 L412.5,327.4 M410.3,332.6 L410.7,327.9 M408.4,333.0 L408.9,328.4 M406.6,333.5 L407.0,328.9 M404.7,334.0 L405.2,329.3 M402.9,334.5 L403.3,329.8 M401.1,335.0 L401.5,330.3 M399.2,335.4 L399.7,330.8 M397.4,335.9 L397.8,331.3 M395.6,336.4 L396.0,331.7" stroke="#161616" stroke-width="1.1" fill="none"/>
<rect x="389.6" y="330.8" width="5.0" height="8.5" rx="2.2" transform="rotate(165.4 392.1 335.0)" fill="#fdfdfd" stroke="#161616" stroke-width="1.9"/>
<path d="M393.7,339.0 L391.6,330.8" stroke="#161616" stroke-width="1.1" fill="none"/>
</g>
<g class="ld">
<path d="M391,299 L401,327"/>
<path d="M495,337 L538,352"/>
<path d="M499,468 L501.5,485"/>
<path d="M544,373 L537,407" style="stroke-width:0.9;stroke-dasharray:4 2"/>
</g>

<!-- 40_belt.svg -->
<g id="belt" class="ph">
<path d="M161.7,560 L161.7,431.5 Q162,412 168.2,399 Q175,389 185.5,387 Q192,383.5 198,384.5 Q207,388 215.8,403.3 L231,431.5 Q239,450 241.5,463 Q244,475 244,490 L244,642 Q243,650 239.7,653.2 Q232,660 224,662.5 Q216,666.5 209,665.5 Q200,663 192,655 Q180,642 170.3,620.7 Q163,603 161.7,580 Z"/>
<path d="M166.5,575 L166.5,431 Q167,414 173,402 Q179,393 187,391"/>
<path d="M171.5,575 L171.5,432 Q172,417 177,406 Q182,398 188,395.5"/>
<path d="M166.5,575 Q168,604 175,622 Q185,645 197,656 Q205,662 212,661"/>
<path d="M171.5,575 Q173,603 180,620 Q190,641 200,651 Q207,657 214,656.5"/>
<path d="M184.4,585 L184.4,425 Q184,408 186.6,401.2 Q188,396 190,396 Q193,400 196.3,414.2 L209.3,438 Q218,455 220.2,464 Q223.4,475 223.4,490 L223.4,646 Q221,650 218,648 Q212,644 209.3,638 Q200,625 196.3,616.3 Q188,600 184.4,585 Z"/>
<path d="M177.5,580 L177.5,430 Q178,410 183,400"/>
<path d="M177.5,580 Q180,602 187,619 Q196,638 206,648 Q212,653 218,652"/>
<path d="M190,390 Q198,392 205,403 L221,433 Q230,452 232,465"/>
<path d="M218,652 Q228,650 240,645"/>
<path d="M214,656.5 Q226,655 240,649"/>
</g>
<g id="pulley11" class="ph">
<ellipse cx="325" cy="428" rx="24" ry="56" transform="rotate(-13 325 428)"/>
<ellipse cx="326" cy="429" rx="19" ry="48" transform="rotate(-13 326 429)"/>
<ellipse cx="327" cy="430" rx="14" ry="38" transform="rotate(-13 327 430)"/>
<ellipse cx="328" cy="431" rx="9" ry="24" transform="rotate(-13 328 431)"/>
<path d="M313,372 Q322,369 330,370.5 Q345,378 356,405 Q365,432 365.5,455 Q364,474 357,480 Q348,485 338,483.5"/>
<path d="M357,480 L346,477"/>
<path d="M318,417 l3,2 M327,413 l2,3 M322,432 l3,1 M331,438 l2,3 M324,446 l3,2 M333,452 l1,3" class="k"/>
</g>
<g id="bolt12" class="k">
<path d="M263.5,432.5 Q262,436 264.5,440 L268,441 L269,438 L279,435.5 Q281,433 279.5,430.5 L268,433 L267.5,431.5 Z" class="w"/>
<path d="M268,433 L269,438 M272,432 L273,437 M275.5,431.5 L276.5,436"/>
</g>
<g class="ld">
<path d="M265.7,399 L267.4,426"/>
<path d="M317,333.5 L316,363.5"/>
<path d="M185.8,352.2 L185.8,380.8"/>
</g>

<!-- 50_pulleys.svg -->
<g id="pulley14" transform="translate(250,620) scale(0.216667)" class="ph">
<ellipse cx="270" cy="715" rx="128" ry="287" transform="rotate(-12 270 715)"/>
<ellipse cx="285" cy="715" rx="112" ry="265" transform="rotate(-12 285 715)"/>
<ellipse cx="305" cy="715" rx="95" ry="245" transform="rotate(-12 305 715)"/>
<path d="M225,432 Q290,415 350,450 Q450,520 500,680 Q540,820 500,920 Q470,985 400,990 L340,995"/>
<path d="M260,440 Q330,440 390,520 Q460,640 470,780 Q480,900 440,960 Q410,990 370,985"/>
<path d="M280,450 Q340,470 390,560 Q440,680 445,800 Q445,900 410,950"/>
<path d="M300,480 Q350,520 390,620 Q420,720 420,830 Q415,900 395,935"/>
<path d="M375,455 L395,480 M355,450 L365,470"/>
<path d="M390,780 l0,60 M400,790 l0,70 M410,800 l0,70 M420,815 l0,60 M430,830 l0,50 M380,800 l0,40 M440,850 l0,40" style="stroke-dasharray:2 1"/>
<path d="M300,590 l25,15 M320,700 l20,-10 M330,740 l15,20"/>
<path d="M392,560 l4,80 M402,580 l4,90 M412,610 l4,90 M422,650 l3,90 M432,700 l2,80 M385,640 l3,60 M375,700 l3,50" style="stroke-dasharray:2.5 1.2;stroke-width:1.3;stroke:#222"/>
<path d="M365,470 Q400,520 415,600 M350,480 Q385,540 398,620" style="stroke:#222"/>
</g>
<g id="bal13" transform="translate(250,620) scale(0.216667)" class="k2">
<path d="M578,303 Q640,270 700,300 Q790,380 840,540 Q880,680 860,780 Q840,830 780,835 L728,850" class="w"/>
<ellipse cx="645" cy="578" rx="122" ry="280" transform="rotate(-14 645 578)" class="w" style="stroke-width:2.4"/>
<ellipse cx="668" cy="590" rx="98" ry="240" transform="rotate(-14 668 590)"/>
<path d="M760,790 L772,838" class="k"/>
<ellipse cx="668" cy="590" rx="18" ry="30" transform="rotate(-14 668 590)" class="k" style="stroke-dasharray:3 2"/>
<circle cx="648" cy="472" r="6" class="f"/><circle cx="712" cy="548" r="6" class="f"/><circle cx="708" cy="675" r="6" class="f"/><circle cx="636" cy="602" r="6" class="f"/><circle cx="640" cy="540" r="5" class="f"/>
<path d="M610,330 Q700,350 760,470" class="k"/>
</g>
<g id="seal20" transform="translate(250,620) scale(0.216667)">
<ellipse cx="925" cy="500" rx="56" ry="110" transform="rotate(-14 925 500)" fill="#161616" stroke="#161616" stroke-width="1.5"/>
<ellipse cx="912" cy="505" rx="22" ry="62" transform="rotate(-14 912 505)" fill="#fdfdfd" stroke="none"/>
<path d="M905,410 Q935,400 955,440 Q985,520 975,590" fill="none" stroke="#fdfdfd" stroke-width="1"/>
<path d="M930,470 L962,480 M935,520 L968,515" stroke="#fdfdfd" stroke-width="1"/>
</g>
<g class="ld">
<path d="M282.5,685 L294.4,707.8"/>
<path d="M351.8,658 L372.4,685"/>
<path d="M426.6,677.4 L440.7,703.4"/>
</g>

<!-- 60_cover.svg -->
<g id="cover" transform="translate(420,560) scale(0.166667)" class="k2">
<!-- outer flange -->
<path d="M300,110 Q330,55 375,45 Q440,55 510,150 Q600,300 655,500 Q695,690 685,870 Q660,1040 590,1145 Q545,1195 500,1180" style="stroke-width:2.6;stroke-dasharray:14 2"/>
<path d="M300,110 Q345,80 395,105 Q470,160 545,310 Q620,500 640,700 Q650,880 615,1020 Q575,1130 520,1165" />
<!-- front face -->
<path d="M300,110 Q270,150 262,200 Q240,320 250,480 Q270,640 300,760 Q315,860 318,960 Q340,1080 400,1130 Q450,1165 500,1180" class="w"/>
<path d="M262,200 Q330,150 400,210 Q480,300 540,480 Q595,680 605,860 Q600,1000 560,1100 Q530,1150 500,1180" class="w"/>
<path d="M305,135 Q350,120 400,160"/>
<!-- window 1 -->
<path d="M295,275 Q300,250 350,250 Q380,260 380,300 L375,450 Q365,475 305,490 Q285,480 285,400 Z" class="k"/>
<path d="M305,290 Q320,270 350,268 L360,300 L355,440 L310,465" class="k"/>
<!-- window 2 -->
<path d="M320,560 Q330,535 380,530 Q420,560 440,600 L520,735 Q515,760 495,760 Q450,750 420,720 Q350,640 325,590 Z" class="k"/>
<path d="M340,575 L385,550 L500,740" class="k"/>
<!-- window 3 -->
<path d="M400,310 Q420,310 440,340 Q500,460 540,640 Q540,680 520,685 Q490,610 470,560 Q420,440 405,400 Z" class="k"/>
<path d="M415,330 Q480,470 525,660" class="k"/>
<!-- hub -->
<path d="M300,760 Q330,730 380,740 Q420,760 440,800"/>
<ellipse cx="375" cy="920" rx="42" ry="105" transform="rotate(-12 375 920)" style="stroke-width:4"/>
<ellipse cx="375" cy="920" rx="62" ry="130" transform="rotate(-12 375 920)" class="k"/>
<path d="M405,830 L440,800 L520,790 L545,875 L470,925 L430,915 Z" class="w"/>
<path d="M440,800 L455,870 L545,875 M455,870 L430,915"/>
<path d="M470,925 L480,1000 Q500,1100 540,1140"/>
<path d="M545,875 Q580,950 590,1040"/>
<path d="M440,950 Q450,1050 500,1130"/>
<!-- flange bolt ticks -->
<path d="M410,80 l-5,20 M515,180 l-12,18 M600,400 l-18,10 M650,580 l-20,4 M675,660 l-22,2 M680,860 l-22,-2 M660,960 l-20,-6 M630,1060 l-18,-10 M600,1110 l-15,-12 M640,1010 l-20,-8" style="stroke-width:2.4"/>
<circle cx="603" cy="402" r="9" class="f"/><circle cx="320" cy="140" r="7" class="f"/>
</g>
<g id="screw20">
<path d="M455.0,583.6 L447.5,586.1" stroke="#161616" stroke-width="4.2" stroke-linecap="round" fill="none"/>
<path d="M455.0,583.6 L447.5,586.1" stroke="#fdfdfd" stroke-width="1.2" stroke-linecap="round" fill="none"/>
<path d="M454.9,585.8 L455.1,581.4 M453.1,586.4 L453.3,582.0 M451.3,587.0 L451.5,582.6 M449.5,587.6 L449.7,583.2 M447.7,588.2 L447.9,583.8" stroke="#161616" stroke-width="1.1" fill="none"/>
<rect x="443.1" y="583.1" width="4.5" height="7.5" rx="2.2" transform="rotate(161.6 445.4 586.8)" fill="#fdfdfd" stroke="#161616" stroke-width="1.9"/>
<path d="M447.1,590.2 L444.7,583.1" stroke="#161616" stroke-width="1.1" fill="none"/>
</g>
<g id="gasket20" transform="translate(400,490) scale(0.216667)" class="k2">
<path d="M690,300 Q660,290 640,320 Q615,370 620,440 Q625,540 650,650 Q670,760 690,835" />
<path d="M700,320 Q675,315 660,340 Q640,390 645,450 Q650,540 670,640 Q685,740 700,820 L690,835"/>
<path d="M690,300 Q720,285 760,330 Q830,430 875,560 Q905,680 910,800 Q905,900 890,980 L878,1080"/>
<path d="M700,320 L715,340 Q740,320 770,370 Q820,450 860,570 Q885,690 890,800 Q885,900 870,980 L862,1060 L878,1080"/>
<path d="M700,320 L690,300"/>
<circle cx="655" cy="345" r="7" class="f"/><circle cx="710" cy="305" r="7" class="f"/><circle cx="785" cy="395" r="8" class="f"/><circle cx="852" cy="548" r="8" class="f"/><circle cx="880" cy="740" r="9" class="f"/><circle cx="645" cy="480" r="7" class="f"/><circle cx="658" cy="650" r="7" class="f"/><circle cx="675" cy="740" r="7" class="f"/>
<path d="M880,880 l10,0 M876,920 l10,0 M872,960 l10,0 M868,1000 l10,0 M866,1035 l10,0" />
</g>
<g class="ld">
<path d="M430.3,555 L441,581"/>
<path d="M468,537.5 L481,566"/>
<path d="M561,526 L558.5,553"/>
</g>

<!-- 70_block.svg -->
<defs>
<pattern id="hatch" width="6.5" height="6.5" patternUnits="userSpaceOnUse" patternTransform="rotate(15)">
<rect x="0" y="0" width="6.5" height="4.1" fill="#1c1c1c"/>
</pattern>
</defs>
<g id="block" transform="translate(570,380) scale(0.416667)" class="pd">
<!-- top back edge & valley -->
<path d="M240,268 L552,184 L646,158 L781,118 L800,94 L822,84 L874,99 L885,128 L958,149 L968,180 L984,232 L1025,274 L1041,326 L1072,388 L1093,424 L1116,440"/>
<path d="M250,300 L330,275 M380,262 L560,212"/>
<path d="M796,128 L864,112 L916,196 L947,253 L984,315 L1020,419 L1041,471"/>
<path d="M781,112 L796,128 L800,150 L835,235"/>
<path d="M810,100 L860,108 L880,135 M815,115 L850,125"/>
<path d="M885,128 L905,170 L935,180 M968,180 L945,200 M984,232 L960,250"/>
<!-- valley ribs -->
<path d="M290,262 l18,42 M325,252 l18,42 M362,242 l18,42 M400,232 l16,38 M438,222 l16,38 M530,196 l16,38 M566,186 l16,38 M604,175 l16,38 M660,160 l14,34 M700,148 l14,34 M740,136 l12,30" class="kt" style="stroke-dasharray:2 2"/>
<ellipse cx="482" cy="236" rx="18" ry="22"/>
<!-- head deck upper scallop -->
<path d="M245,392 L300,372 Q320,350 350,352 L400,345 Q420,322 450,325 L552,310 L620,289 L661,274 L724,268 L781,242 L807,237 L843,263 L854,284 L890,279 L937,263"/>
<path d="M250,400 L340,380 Q355,362 380,368 L430,352 Q470,340 500,345 L552,378 M552,340 L609,330 Q640,310 687,316 L750,300 L770,285 L833,285"/>
<path d="M360,430 L420,412 Q440,395 470,400 L540,385 Q560,365 609,346 L687,336 L750,320 L770,305 L833,300 L850,272"/>
<!-- deck left/bottom edges -->
<path d="M245,392 L266,456 L300,580 L335,706"/>
<path d="M335,706 L528,641 L684,589 L840,545 L904,524 L1039,475 L1114,448"/>
<path d="M338,722 L528,657 L684,605 L840,561 L900,542"/>
<!-- bores -->
<g>
<ellipse cx="405" cy="548" rx="76" ry="86" transform="rotate(-18 405 548)" class="w"/>
<ellipse cx="578" cy="495" rx="76" ry="86" transform="rotate(-18 578 495)" class="w"/>
<ellipse cx="742" cy="443" rx="74" ry="84" transform="rotate(-18 742 443)" class="w"/>
<ellipse cx="896" cy="396" rx="70" ry="80" transform="rotate(-18 896 396)" class="w"/>
</g>
<g style="stroke:none" fill="url(#hatch)">
<path d="M372,470 Q325,490 332,560 Q350,620 415,632 Q380,590 372,540 Q365,500 372,470 Z"/>
<path d="M545,417 Q498,437 505,507 Q523,567 588,579 Q553,537 545,487 Q538,447 545,417 Z"/>
<path d="M710,366 Q664,386 671,455 Q689,514 752,526 Q718,485 710,436 Q703,396 710,366 Z"/>
<path d="M866,322 Q822,342 829,408 Q846,465 906,476 Q873,437 866,390 Q859,352 866,322 Z"/>
</g>
<!-- bolt holes -->
<g class="k" style="stroke-dasharray:none;stroke-width:1;fill:#333">
<circle cx="368" cy="438" r="5"/><circle cx="300" cy="522" r="5"/><circle cx="340" cy="640" r="5"/><circle cx="398" cy="655" r="5"/><circle cx="490" cy="628" r="5"/><circle cx="520" cy="590" r="5"/><circle cx="572" cy="600" r="5"/><circle cx="655" cy="575" r="5"/><circle cx="715" cy="535" r="5"/><circle cx="738" cy="545" r="5"/><circle cx="845" cy="490" r="5"/><circle cx="890" cy="498" r="5"/><circle cx="480" cy="470" r="5"/><circle cx="540" cy="385" r="5"/><circle cx="648" cy="410" r="5"/><circle cx="700" cy="340" r="5"/><circle cx="812" cy="355" r="5"/><circle cx="860" cy="295" r="5"/><circle cx="1000" cy="430" r="5"/><circle cx="985" cy="455" r="5"/>
<ellipse cx="462" cy="425" rx="14" ry="17" style="fill:none"/><ellipse cx="630" cy="378" rx="14" ry="17" style="fill:none"/><ellipse cx="795" cy="335" rx="14" ry="17" style="fill:none"/>
<path d="M448,430 Q452,445 470,442 M616,383 Q620,398 638,395 M781,340 Q785,355 803,352" style="stroke-width:2.6;fill:none"/>
</g>
<!-- front (left) face outline -->
<path d="M146,248 L131,264 L121,286 L76,304 L68,331 L81,361 L88,386 L83,416 L66,451 L58,486 L73,516 L81,546 L78,586 L96,611 L123,641 L151,651 L181,636 L191,651 L201,696 L216,736 L236,766 L256,791 L266,806"/>
<path d="M146,248 L166,256 L186,271 L211,266 L240,268 M211,266 L236,291 L241,316 L226,361 L236,381 L251,416 L266,456 L271,496 L286,566 L306,631 L326,696 L316,736 L286,766 L266,806"/>
<path d="M136,262 L128,290 L92,310 L84,335 L96,362 L102,388 L98,418 L82,452 L75,486 L88,514 L96,546 L94,582 L110,604 L132,626 L152,634"/>
<path d="M150,275 L146,300 L126,330 L118,365 L130,395"/>
<path d="M240,268 L245,330 L245,392"/>
<path d="M153,301 Q180,300 206,316 M155,308 Q182,308 204,324 M158,315 Q180,316 200,330" style="stroke-width:2.6"/>
<path d="M118,376 Q138,378 161,396 M120,384 Q140,386 158,402" style="stroke-width:2.6"/>
<path d="M136,476 Q140,440 151,431 Q170,420 181,426 Q198,440 206,496 Q206,540 201,546 Q190,580 181,586 Q165,590 156,576 Q138,550 136,536 Z"/>
<path d="M148,480 Q152,450 162,444 Q176,440 184,452 Q194,480 194,520 Q190,555 180,568 Q168,574 160,562 Q148,540 148,480 Z"/>
<path d="M156,486 Q165,460 171,456 Q182,462 186,476 Q188,520 186,536 Q178,560 171,561 Q160,550 156,541 Z"/>
<path d="M162,500 L176,470 M166,520 L182,490 M170,540 L184,515" style="stroke-width:2.2"/>
<path d="M216,466 Q230,452 241,456 Q254,470 256,486 Q262,520 261,526 Q258,555 251,561 Q238,566 231,561 Q218,540 216,526 Z"/>
<path d="M224,476 Q234,466 242,472 Q250,500 248,530 Q242,552 234,550 Q224,530 224,476 Z"/>
<path d="M206,441 Q214,500 216,560 Q222,640 236,716 M212,441 Q222,500 224,560 Q230,640 244,710 M200,470 Q206,540 210,600 Q214,660 228,720" />
<path d="M228,430 L236,460 M232,500 L240,520 M226,560 L236,585" style="stroke-width:2.2"/>
<path d="M261,631 Q272,620 286,621 Q300,640 306,651 Q318,690 316,696 Q312,722 306,726 Q292,726 281,721 Q264,690 261,681 Z"/>
<path d="M270,640 Q282,634 290,642 Q302,670 304,696 Q300,714 294,714 Q280,700 272,676 Z"/>
<path d="M276,650 L292,690 M282,646 L298,684" style="stroke-width:2.2"/>
<path d="M78,540 L100,548 L106,580 M84,600 L112,596 M100,470 L120,478 M92,420 L112,430" style="stroke-width:2.2"/>
<path d="M236,716 L246,760 L262,790 M244,710 L256,752"/>
<path d="M201,696 Q214,700 232,690"/>
<!-- lower side -->
<path d="M266,806 L528,714 L814,615 L936,576"/>
<path d="M300,766 L622,662 L767,620 L900,578"/>
<path d="M335,706 L322,730"/>
<path d="M424,688 L500,668 Q528,660 528,680 L523,709 L424,740 M440,700 L505,682" />
<path d="M440,712 l60,-18 M445,724 l60,-18" style="stroke-width:2.2"/>
<path d="M658,636 L710,626 Q718,636 715,652 L668,662 M670,646 l40,-10" />
<path d="M868,532 L920,544 L912,572 L850,610 L776,640"/>
<path d="M905,552 Q870,585 800,625"/>
<path d="M850,560 L800,600 L776,640"/>
<!-- right bracket -->
<path d="M904,524 L936,576 L1068,620 L1096,612 L1112,576 L1116,452"/>
<path d="M956,510 L956,532 L984,540 L1068,620 M956,532 L936,576"/>
<ellipse cx="1036" cy="536" rx="16" ry="11"/>
<path d="M1090,470 L1085,600"/>
</g>

<!-- 80_rear.svg -->
<g id="gasket25" transform="translate(700,700) scale(0.216667)" class="k2">
<path d="M135,545 L160,515 L215,525 L250,470 L275,420 L305,410 L340,440 L420,520 L440,560 L480,555 L495,600 L480,650 L510,750 L520,810 L550,880 L530,950 L510,940 L460,880 L450,780 L420,640 Q400,590 370,560 Q340,525 305,520 Q265,525 245,560 L230,585 L215,630 L190,625 Z" class="w" style="stroke-width:2.2"/>
<circle cx="178" cy="555" r="13" class="k"/><circle cx="292" cy="445" r="12" class="k"/><circle cx="455" cy="595" r="13" class="k"/>
<path d="M475,830 L500,825 L512,870 L485,880 Z" class="k"/>
<path d="M185,560 Q178,575 190,580 M298,452 Q292,465 302,468 M462,600 Q455,615 468,618" class="k"/>
</g>
<g id="housing24" transform="translate(800,740) scale(0.15)" class="k2">
<path d="M100,380 L130,350 L195,340 L250,270 L290,212 L340,200 L370,225 L390,235 L470,235 L560,290 L640,370 L700,450 L745,530 L770,640 L790,760 L800,830 L815,850 L800,895 L760,905 L755,940 L730,985 L700,1030 L620,1060 L540,1090 L470,1100 L400,1070 L330,1000 L270,900 L230,800 L205,700 L190,600 L180,520 L150,470 L110,450 Z" class="w" style="stroke-width:2.4"/>
<!-- rear flange lines -->
<path d="M370,225 L400,262 L480,268 L545,300 L600,400 L660,500 L700,600 L722,700 L742,780"/>
<path d="M480,240 L520,290 L560,330" class="k"/>
<path d="M545,300 L580,300" class="k"/>
<path d="M672,522 L745,530 L747,556 L682,546 Z" class="k w"/>
<!-- front ring inner edge -->
<path d="M330,340 Q280,400 245,520 Q228,640 260,760 Q300,880 370,975 Q450,1050 520,1060 Q590,1045 640,990" class="w"/>
<path d="M330,340 Q400,315 470,350 Q560,420 620,560 Q660,700 650,830 Q645,930 640,990"/>
<!-- depth arcs -->
<path d="M345,365 Q305,480 320,620 Q355,780 420,900 Q455,950 485,980" class="k"/>
<path d="M370,390 Q340,500 352,620 Q385,770 445,880" class="k"/>
<!-- bore (visible hole) -->
<path d="M395,415 Q440,380 495,400 Q558,465 600,570 Q632,680 634,795 Q618,885 565,935 Q540,955 515,952 Q462,880 422,760 Q388,640 378,520 Q378,450 395,415 Z" class="w"/>
<path d="M350,352 Q390,350 425,392" style="stroke-width:4"/>
<path d="M420,900 L440,940 L470,935 M455,950 L470,990 L510,985 M380,830 L395,860 M350,800 L352,840 M300,810 L330,812 M280,740 L300,742 M265,560 L285,562 M262,640 L282,642" class="k"/>
<!-- boss -->
<path d="M700,812 L760,790 L800,830 L815,850 L800,895 L752,905 L740,870 L700,850 Z" class="k w"/>
<path d="M740,870 L800,850 M720,820 Q735,810 745,825 Q735,840 720,835 Z" class="k"/>
<!-- cutaway bottom right -->
<path d="M640,905 Q670,895 700,920 L730,985" style="stroke-width:3.6"/>
<path d="M650,925 L622,1045 M690,938 L668,1042 M720,962 L700,1030" />
<path d="M640,990 Q650,950 640,905" class="k"/>
<!-- holes -->
<ellipse cx="175" cy="412" rx="16" ry="22" class="k"/>
<path d="M310,245 Q325,250 322,270 M566,425 Q582,432 578,452 M636,790 Q652,798 648,818" style="stroke-width:3.4"/>
<path d="M150,470 L190,452 M195,340 L215,380" class="k"/>
</g>
<g id="pin29" transform="translate(700,700) scale(0.216667)" class="k">
<path d="M320,885 Q315,895 322,905 L365,900 Q378,892 372,880 L330,880 Z" class="w"/>
</g>
<g id="bolts-rear">
<path d="M889.0,768.0 L904.0,762.5" stroke="#161616" stroke-width="5.0" stroke-linecap="round" fill="none"/>
<path d="M889.0,768.0 L904.0,762.5" stroke="#fdfdfd" stroke-width="2.0" stroke-linecap="round" fill="none"/>
<path d="M888.9,765.4 L889.1,770.6 M890.7,764.7 L890.9,770.0 M892.5,764.1 L892.7,769.3 M894.2,763.4 L894.5,768.7 M896.0,762.8 L896.2,768.0 M897.8,762.1 L898.0,767.4 M899.6,761.5 L899.8,766.7 M901.4,760.8 L901.6,766.0 M903.2,760.1 L903.4,765.4" stroke="#161616" stroke-width="1.1" fill="none"/>
<rect x="903.8" y="756.8" width="7.0" height="9.0" rx="2.2" transform="rotate(-20.1 907.3 761.3)" fill="#fdfdfd" stroke="#161616" stroke-width="1.9"/>
<path d="M904.9,757.4 L908.0,765.8" stroke="#161616" stroke-width="1.1" fill="none"/>
<path d="M898.5,783.0 L943.0,770.0" stroke="#161616" stroke-width="5.0" stroke-linecap="round" fill="none"/>
<path d="M898.5,783.0 L943.0,770.0" stroke="#fdfdfd" stroke-width="2.0" stroke-linecap="round" fill="none"/>
<path d="M898.6,780.4 L898.4,785.6 M900.4,779.8 L900.3,785.1 M902.2,779.3 L902.1,784.6 M904.0,778.8 L903.9,784.0 M905.9,778.2 L905.7,783.5 M907.7,777.7 L907.6,783.0 M909.5,777.2 L909.4,782.4 M911.3,776.6 L911.2,781.9 M913.2,776.1 L913.0,781.4 M915.0,775.6 L914.8,780.8 M916.8,775.0 L916.7,780.3 M918.6,774.5 L918.5,779.8" stroke="#161616" stroke-width="1.1" fill="none"/>
<path d="M932,773.3 L942.5,770.2" stroke="#161616" stroke-width="5" stroke-dasharray="1.6 0.8" fill="none"/>
<path d="M947.5,765 L951,762 L956.5,762.5 L958.8,766 L958,770.5 L954,772.8 L949.5,772 L947,769 Z" class="k2 w" style="stroke-width:2.4"/>
<path d="M951,762 L953,768 L958,770.5 M953,768 L947.5,769" class="k"/>
<circle cx="952.5" cy="766" r="1.6" class="f"/>
<path d="M911.5,799.0 L927.0,794.0" stroke="#161616" stroke-width="5.0" stroke-linecap="round" fill="none"/>
<path d="M911.5,799.0 L927.0,794.0" stroke="#fdfdfd" stroke-width="2.0" stroke-linecap="round" fill="none"/>
<path d="M911.5,796.4 L911.5,801.6 M913.3,795.8 L913.3,801.0 M915.1,795.2 L915.1,800.5 M916.9,794.6 L916.9,799.9 M918.7,794.0 L918.7,799.3 M920.5,793.5 L920.5,798.7 M922.3,792.9 L922.4,798.1 M924.2,792.3 L924.2,797.5 M926.0,791.7 L926.0,797.0" stroke="#161616" stroke-width="1.1" fill="none"/>
<rect x="926.8" y="787.9" width="7.0" height="10.0" rx="2.2" transform="rotate(-17.9 930.3 792.9)" fill="#fdfdfd" stroke="#161616" stroke-width="1.9"/>
<path d="M928.0,788.4 L931.1,797.9" stroke="#161616" stroke-width="1.1" fill="none"/>
<path d="M925.0,854.0 L954.0,845.0" stroke="#161616" stroke-width="5.6" stroke-linecap="round" fill="none"/>
<path d="M925.0,854.0 L954.0,845.0" stroke="#fdfdfd" stroke-width="2.6" stroke-linecap="round" fill="none"/>
<path d="M924.9,851.1 L925.1,856.9 M926.7,850.5 L926.9,856.3 M928.6,850.0 L928.7,855.8 M930.4,849.4 L930.5,855.2 M932.2,848.8 L932.3,854.7 M934.0,848.3 L934.1,854.1 M935.8,847.7 L936.0,853.5 M937.6,847.1 L937.8,853.0 M939.5,846.6 L939.6,852.4 M941.3,846.0 L941.4,851.8" stroke="#161616" stroke-width="1.1" fill="none"/>
<rect x="953.8" y="837.9" width="9.0" height="11.5" rx="2.2" transform="rotate(-17.2 958.3 843.7)" fill="#fdfdfd" stroke="#161616" stroke-width="1.9"/>
<path d="M955.6,838.5 L959.0,849.5" stroke="#161616" stroke-width="1.1" fill="none"/>
</g>
<g id="seal26" transform="translate(860,700) scale(0.183333)" class="k2">
<ellipse cx="770" cy="530" rx="160" ry="275" transform="rotate(-17 770 530)" class="w" style="stroke-width:2.6"/>
<ellipse cx="765" cy="530" rx="140" ry="255" transform="rotate(-17 765 530)" class="k"/>
<ellipse cx="750" cy="535" rx="112" ry="225" transform="rotate(-17 750 535)" style="stroke-width:2.8"/>
<ellipse cx="745" cy="535" rx="100" ry="210" transform="rotate(-17 745 535)" class="k"/>
<path d="M690,260 Q760,250 800,275" class="k"/>
<path d="M820,420 l20,30 M850,500 l15,30 M870,580 l10,30" class="k"/>
</g>
<g class="ld">
<path d="M779,774.8 L779,795.3"/>
<path d="M774.8,896 L774.8,918.9"/>
<path d="M907,891.8 L922,916.7"/>
<path d="M888.5,755 L892.5,762"/>
<path d="M924.3,743.3 L924.3,769.3"/>
<path d="M955.3,743 L953.5,757"/>
<path d="M935.5,790 L936,797 L942.5,797.5"/>
<path d="M947,854.5 L967,871"/>
<path d="M1021.5,848 L1032,872"/>
</g>

<!-- 85_bolts.svg -->
<g id="bolts-left">
<path d="M183.5,792.8 L164.5,798.7" stroke="#161616" stroke-width="5.0" stroke-linecap="round" fill="none"/>
<path d="M183.5,792.8 L164.5,798.7" stroke="#fdfdfd" stroke-width="2.0" stroke-linecap="round" fill="none"/>
<path d="M183.5,795.4 L183.5,790.2 M181.7,796.0 L181.7,790.7 M179.8,796.6 L179.9,791.3 M178.0,797.1 L178.1,791.9 M176.2,797.7 L176.3,792.4 M174.4,798.2 L174.4,793.0 M172.6,798.8 L172.6,793.6 M170.8,799.4 L170.8,794.1 M169.0,799.9 L169.0,794.7 M167.1,800.5 L167.2,795.2 M165.3,801.1 L165.4,795.8" stroke="#161616" stroke-width="1.1" fill="none"/>
<rect x="154.7" y="793.4" width="10.0" height="13.5" rx="2.2" transform="rotate(162.7 159.7 800.2)" fill="#fdfdfd" stroke="#161616" stroke-width="1.9"/>
<path d="M162.9,806.3 L158.9,793.4" stroke="#161616" stroke-width="1.1" fill="none"/>
<path d="M192.5,939.0 L161.0,949.3" stroke="#161616" stroke-width="6.2" stroke-linecap="round" fill="none"/>
<path d="M192.5,939.0 L161.0,949.3" stroke="#fdfdfd" stroke-width="3.2" stroke-linecap="round" fill="none"/>
<path d="M192.7,942.2 L192.3,935.8 M190.9,942.8 L190.5,936.4 M189.1,943.4 L188.7,937.0 M187.3,944.0 L186.9,937.6 M185.5,944.6 L185.1,938.2 M183.7,945.1 L183.3,938.8 M181.9,945.7 L181.5,939.3 M180.1,946.3 L179.7,939.9 M178.3,946.9 L177.8,940.5 M176.4,947.5 L176.0,941.1 M174.6,948.1 L174.2,941.7 M172.8,948.7 L172.4,942.3 M171.0,949.3 L170.6,942.9 M169.2,949.9 L168.8,943.5 M167.4,950.5 L167.0,944.1 M165.6,951.1 L165.2,944.7 M163.8,951.6 L163.4,945.3 M162.0,952.2 L161.6,945.8" stroke="#161616" stroke-width="1.1" fill="none"/>
<rect x="151.2" y="943.1" width="10.0" height="15.5" rx="2.2" transform="rotate(161.9 156.2 950.9)" fill="#fdfdfd" stroke="#161616" stroke-width="1.9"/>
<path d="M159.8,957.8 L155.0,943.1" stroke="#161616" stroke-width="1.1" fill="none"/>
</g>
<g id="washers">
<ellipse cx="209.8" cy="933.5" rx="4.8" ry="10.5" transform="rotate(-18 209.8 933.5)" class="k2 w" style="stroke-width:2.2"/>
<ellipse cx="211" cy="934" rx="2" ry="5" transform="rotate(-18 211 934)" class="k"/>
<ellipse cx="232.5" cy="925.5" rx="9" ry="22" transform="rotate(-22 232.5 925.5)" class="k2 w" style="stroke-width:2.4;stroke-dasharray:6 0.8"/>
<ellipse cx="232.5" cy="924" rx="2.2" ry="4.2" transform="rotate(-22 232.5 924)" class="k2"/>
</g>
<g class="ld">
<path d="M162.5,802.3 L171.2,819.6"/>
<path d="M171.2,952.8 L175.5,973.4"/>
<path d="M212.5,948.8 L218.8,966.7"/>
<path d="M243.3,947.5 L259.2,961.3"/>
</g>

<!-- 86_filter.svg -->
<g id="filter" transform="translate(640,980) scale(0.183333)" class="k2">
<!-- body -->
<path d="M143,540 L148,1010 L160,1090 Q345,1180 540,1090 L552,1010 L555,540" class="w"/>
<path d="M148,1010 Q345,1090 552,1010" class="k"/>
<path d="M262,1118 Q270,1150 345,1152 Q425,1150 438,1112" class="k"/>
<path d="M260,1118 Q345,1128 440,1110" class="k"/>
<path d="M205,1040 L207,1105 M255,1052 L257,1115 M315,1058 L316,1122 M375,1058 L376,1120 M435,1050 L436,1112 M490,1035 L490,1098" class="k"/>
<path d="M165,600 L170,1000" class="kt"/>
<path d="M530,600 L532,1000" class="kt"/>
<!-- top -->
<ellipse cx="348" cy="533" rx="208" ry="95" class="w" style="stroke-width:1.7"/>
<ellipse cx="348" cy="537" rx="190" ry="84" class="k" style="stroke-dasharray:9 2;stroke-width:1.3"/>
<ellipse cx="348" cy="540" rx="170" ry="74" class="k" style="stroke-dasharray:5 2"/>
<ellipse cx="345" cy="545" rx="95" ry="42" class="k" style="stroke-dasharray:7 2"/>
<path d="M262,565 Q345,612 428,560" class="k2" style="stroke-dasharray:5 2;stroke-width:2.6"/>
<path d="M143,560 Q345,680 555,560" class="k"/>
<path d="M143,585 Q345,705 555,585" class="k"/>
</g>
<g id="adapter21" transform="translate(640,980) scale(0.183333)" class="k2">
<path d="M215,215 Q215,190 250,180 L300,160 Q340,140 380,150 L440,160 Q485,160 492,185 Q495,210 470,220 L440,280 Q400,310 340,305 L270,285 Q250,320 215,320 Q195,300 205,270 Z" class="w" style="stroke-width:2.2"/>
<ellipse cx="350" cy="225" rx="95" ry="48" class="k"/>
<ellipse cx="350" cy="225" rx="60" ry="30" class="k"/>
<path d="M320,170 Q340,150 380,160 Q410,175 395,200 Q360,215 330,200 Q310,185 320,170 Z" style="stroke-width:3"/>
<path d="M340,225 Q360,240 375,220" style="stroke-width:3"/>
<path d="M330,168 Q350,150 385,160 Q405,172 396,196 Q365,212 335,198 Q318,184 330,168 Z" fill="#1c1c1c" stroke="none"/>
<ellipse cx="358" cy="176" rx="16" ry="9" fill="#fdfdfd" stroke="none"/>
<path d="M210,262 Q225,250 245,262" style="stroke-width:3.2"/>
<circle cx="462" cy="185" r="9" class="k"/>
<path d="M205,270 Q230,260 250,275 L270,285" class="k"/>
<!-- nipple -->
<path d="M300,305 L302,380 Q345,400 388,380 L390,300" class="w"/>
<path d="M302,333 Q345,353 388,333 M302,348 Q345,368 388,348 M302,363 Q345,383 388,363 M304,376 Q345,396 386,376" style="stroke-width:3.2"/>
</g>
<g id="bolt22" transform="translate(640,980) scale(0.183333)" class="k2">
<path d="M452,318 Q468,308 485,318 L485,385 Q468,392 452,385 Z" class="w" style="stroke-width:2.4"/>
<path d="M440,392 Q440,380 468,382 Q495,380 497,392 L495,410 Q468,420 442,410 Z" class="w" style="stroke-width:2.4"/>
<path d="M452,335 L485,335" class="k"/>
<path d="M458,340 L458,382 M479,340 L479,382" style="stroke-width:2.6"/>
</g>
<g class="ld">
<path d="M736.3,1017.6 L771,1009.3"/>
<path d="M733.5,1047.5 L756.4,1045"/>
<path d="M742.7,1078 L765.6,1078"/>
</g>

<!-- 88_dashes.svg -->
<g id="dashes">
<!-- pump to block -->
<path d="M455,315 L587,276" class="ds" style="stroke-dasharray:10 4;stroke-width:1.3"/>
<path d="M588,276 L588,514.5" class="dd" style="stroke-dasharray:10 3 3 3"/>
<path d="M587.5,514.5 L601,512.5" class="ld"/>
<!-- block to rear seal box -->
<path d="M1036,553 L1041,551 L1041,647" class="ds"/>
<path d="M1041,647 L709.8,746.6" class="ds"/>
<path d="M709.8,746.6 L705.4,881" class="ds"/>
<path d="M705.4,881 L826,849" class="ds"/>
<path d="M826,849 L990,806" class="dd" style="stroke-width:1"/>
<!-- bolt 19 centerline -->
<path d="M184.2,790.3 L319,745.7" class="dd" style="stroke-width:1"/>
<!-- vertical dashed left -->
<path d="M281.7,787 L261.1,794.7 L261.1,911.7 L250.3,919.3" class="ds" style="stroke-dasharray:19 5;stroke-width:1.4"/>
</g>

<!-- 90_labels.svg -->
<g id="labels" style="opacity:0.996">
<text transform="translate(348.5,38.6) scale(0.820,1)">4</text>
<text transform="translate(320.0,118.6) scale(0.820,1)">5</text>
<text transform="translate(962.0,19.1) scale(0.820,1)">6</text>
<text transform="translate(887.0,63.6) scale(0.820,1)">3</text>
<text transform="translate(1023.8,90.1) scale(0.820,1)">1</text>
<text transform="translate(1048.0,137.6) scale(0.820,1)">2</text>
<text transform="translate(988.0,357.6) scale(0.820,1)">7</text>
<text transform="translate(390.0,293.6) scale(0.820,1)">10</text>
<text transform="translate(317.0,327.6) scale(0.820,1)">11</text>
<text transform="translate(185.5,346.6) scale(0.820,1)">15</text>
<text transform="translate(264.5,392.6) scale(0.820,1)">12</text>
<text transform="translate(548.5,360.1) scale(0.820,1)">9</text>
<text transform="translate(501.5,505.1) scale(0.820,1)">8</text>
<text transform="translate(413.0,550.1) scale(0.820,1)">20</text>
<text transform="translate(451.5,531.6) scale(0.820,1)">20</text>
<text transform="translate(560.0,520.1) scale(0.820,1)">20</text>
<text transform="translate(268.4,677.9) scale(0.820,1)">14</text>
<text transform="translate(336.7,651.4) scale(0.820,1)">13</text>
<text transform="translate(410.8,670.9) scale(0.820,1)">20</text>
<text transform="translate(172.3,844.6) scale(0.820,1)">19</text>
<text transform="translate(175.0,995.1) scale(0.820,1)">16</text>
<text transform="translate(218.5,989.9) scale(0.820,1)">17</text>
<text transform="translate(275.6,983.0) scale(0.820,1)">18</text>
<text transform="translate(779.5,770.0) scale(0.820,1)">25</text>
<text transform="translate(872.3,749.9) scale(0.820,1)">28</text>
<text transform="translate(923.3,734.3) scale(0.820,1)">31</text>
<text transform="translate(956.7,732.6) scale(0.820,1)">30</text>
<text transform="translate(957.7,805.9) scale(0.820,1)">28</text>
<text transform="translate(982.7,893.6) scale(0.820,1)">27</text>
<text transform="translate(1031.7,893.6) scale(0.820,1)">26</text>
<text transform="translate(938.3,942.6) scale(0.820,1)">24</text>
<text transform="translate(774.0,941.6) scale(0.820,1)">29</text>
<text transform="translate(785.7,1017.6) scale(0.820,1)">21</text>
<text transform="translate(771.7,1053.3) scale(0.820,1)">22</text>
<text transform="translate(781.7,1085.1) scale(0.820,1)">23</text>
<text transform="translate(1017.0,1196.9) scale(0.820,1)">35335</text>
</g>
</svg></body></html>
